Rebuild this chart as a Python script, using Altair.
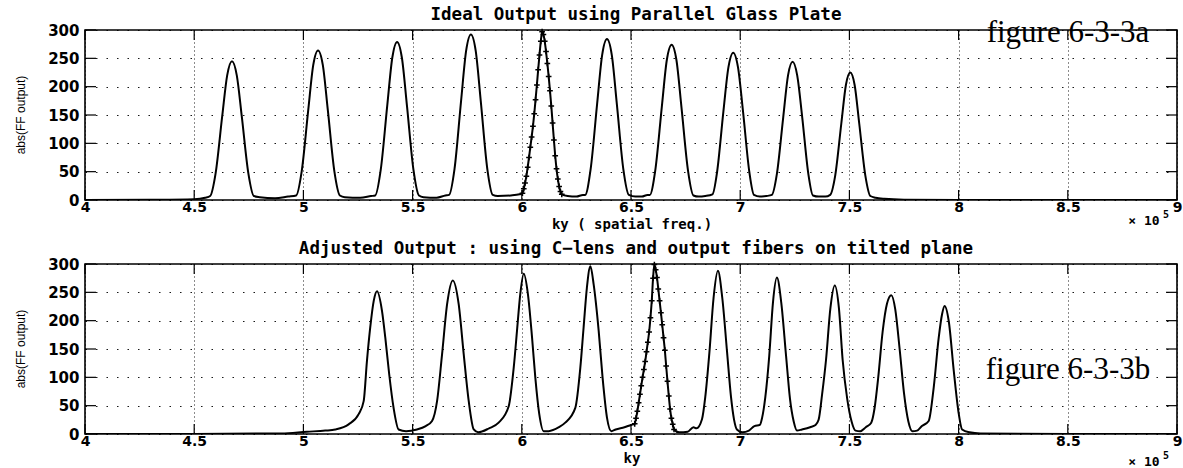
import altair as alt
import pandas as pd

# Axis tick positions
KY_TICKS = [4, 4.5, 5, 5.5, 6, 6.5, 7, 7.5, 8, 8.5, 9]
AMP_TICKS = [0, 50, 100, 150, 200, 250, 300]

# Texts
TITLES = [
    "Ideal Output using Parallel Glass Plate",
    "Adjusted Output : using C\u2212lens and output fibers on tilted plane",
]
X_TITLES = ["ky ( spatial freq.)", "ky"]
Y_TITLE = "abs(FF output)"
FIG_LABELS = ["figure 6-3-3a", "figure 6-3-3b"]
EXP_BASE = "\u00d7 10"
EXP_POWER = "5"

# Upper panel: far-field output with the parallel glass plate
top_ky = [
    4.00, 4.30, 4.50, 4.55,
    4.573, 4.598, 4.628, 4.651, 4.673, 4.695, 4.718, 4.748, 4.773,
    4.80, 4.87, 4.93,
    4.967, 4.992, 5.022, 5.045, 5.067, 5.089, 5.112, 5.142, 5.167,
    5.19, 5.26, 5.31,
    5.329, 5.354, 5.384, 5.407, 5.429, 5.451, 5.474, 5.504, 5.529,
    5.55, 5.61, 5.65,
    5.667, 5.692, 5.722, 5.745, 5.767, 5.789, 5.812, 5.842, 5.867,
    5.89, 5.95, 5.99,
    6.21, 6.25, 6.28,
    6.290, 6.315, 6.345, 6.368, 6.390, 6.412, 6.435, 6.465, 6.490,
    6.52, 6.55, 6.575,
    6.586, 6.611, 6.641, 6.664, 6.686, 6.708, 6.731, 6.761, 6.786,
    6.81, 6.84,
    6.873, 6.894, 6.923, 6.946, 6.968, 6.990, 7.013, 7.042, 7.063,
    7.09, 7.12,
    7.145, 7.168, 7.197, 7.219, 7.240, 7.261, 7.284, 7.312, 7.333,
    7.36, 7.39,
    7.412, 7.435, 7.463, 7.484, 7.504, 7.524, 7.545, 7.573, 7.596,
    7.62, 7.66, 7.75, 8.00, 9.00,
]
top_amp = [
    0, 0.5, 1.5, 4,
    7, 47, 147, 220, 245, 220, 147, 47, 7,
    5, 3, 6,
    8, 50, 158, 238, 264, 238, 158, 50, 8,
    5, 4, 7,
    8, 53, 167, 251, 279, 251, 167, 53, 8,
    5, 4, 8,
    9, 55, 175, 263, 292, 263, 175, 55, 9,
    7, 8, 10,
    7, 6, 9,
    9, 54, 170, 256, 284, 256, 170, 54, 9,
    6, 6, 9,
    9, 52, 164, 247, 274, 247, 164, 52, 8,
    6, 7,
    10, 49, 156, 234, 260, 234, 156, 49, 9,
    6, 7,
    9, 46, 146, 220, 244, 220, 146, 46, 8,
    6, 6,
    9, 43, 135, 203, 225, 203, 135, 43, 7,
    4, 2, 0.5, 0, 0,
]
# Sampled points of the reference channel (drawn with markers)
top_mark_ky = [
    6.003, 6.009, 6.015, 6.021, 6.027, 6.033, 6.039, 6.045, 6.051, 6.057,
    6.063, 6.069, 6.075, 6.081, 6.087, 6.093, 6.099, 6.105, 6.111, 6.117,
    6.123, 6.129, 6.135, 6.141, 6.147, 6.153, 6.159, 6.165, 6.171, 6.177,
    6.183,
]
top_mark_amp = [
    12, 20, 30, 42, 58, 75, 93, 111, 130, 152,
    177, 203, 230, 256, 280, 297, 292, 280, 262, 241,
    218, 193, 166, 136, 106, 78, 55, 37, 24, 15,
    10,
]

# Lower panel: C-lens with output fibers on a tilted plane
bot_ky = [
    4.00, 4.50, 4.90, 5.016, 5.10, 5.146, 5.207,
    5.253, 5.276, 5.291, 5.306, 5.322, 5.337, 5.360, 5.375, 5.393, 5.413, 5.436,
    5.47, 5.52, 5.56,
    5.589, 5.612, 5.635, 5.658, 5.684, 5.711, 5.734, 5.757, 5.780,
    5.80, 5.85,
    5.894, 5.940, 5.963, 5.978, 5.993, 6.009, 6.028, 6.047, 6.062, 6.080, 6.10,
    6.123, 6.17,
    6.199, 6.245, 6.268, 6.283, 6.298, 6.314, 6.329, 6.352, 6.370, 6.390, 6.410,
    6.43, 6.47, 6.50,
    6.72, 6.76, 6.786, 6.80,
    6.825, 6.840, 6.859, 6.878, 6.898, 6.918, 6.940, 6.958, 6.972, 6.985,
    7.01, 7.04, 7.065, 7.09,
    7.10, 7.115, 7.133, 7.150, 7.168, 7.188, 7.210, 7.228, 7.245, 7.26,
    7.283, 7.32, 7.345,
    7.359, 7.375, 7.393, 7.413, 7.433, 7.452, 7.469, 7.49, 7.51, 7.528,
    7.55, 7.575,
    7.60, 7.615, 7.632, 7.652, 7.672, 7.692, 7.710, 7.730, 7.750, 7.770, 7.788,
    7.81, 7.832,
    7.863, 7.886, 7.909, 7.924, 7.936, 7.955, 7.978, 8.001, 8.016,
    8.05, 8.10, 8.50, 9.00,
]
bot_amp = [
    0, 0, 1, 4, 6, 8, 17,
    35, 58, 129, 188, 235, 252, 217, 170, 105, 46, 8,
    5, 8, 14,
    23, 58, 141, 229, 271, 229, 141, 58, 8,
    3, 10,
    20, 49, 117, 182, 247, 283, 247, 170, 99, 35, 5,
    5, 12,
    20, 46, 117, 188, 258, 296, 264, 182, 99, 29, 5,
    8, 12, 16,
    3, 4, 12, 10,
    26, 65, 144, 240, 288, 240, 144, 65, 25, 8,
    3, 6, 14, 16,
    28, 65, 138, 232, 276, 232, 138, 62, 22, 6,
    8, 12, 16,
    25, 70, 131, 222, 262, 222, 131, 62, 22, 6,
    5, 12,
    20, 45, 100, 180, 230, 245, 220, 150, 72, 22, 5,
    6, 14,
    23, 82, 170, 211, 226, 199, 111, 35, 8,
    3, 1, 0, 0,
]
bot_mark_ky = [
    6.517, 6.523, 6.529, 6.535, 6.541, 6.547, 6.553, 6.559, 6.565, 6.571,
    6.577, 6.583, 6.589, 6.595, 6.601, 6.607, 6.613, 6.619, 6.625, 6.631,
    6.637, 6.643, 6.649, 6.655, 6.661, 6.667, 6.673, 6.679, 6.685, 6.691,
    6.697,
]
bot_mark_amp = [
    18, 28, 40, 55, 70, 85, 100, 114, 128, 145,
    162, 180, 205, 235, 275, 299, 290, 276, 256, 235,
    214, 193, 170, 148, 120, 93, 67, 44, 28, 17,
    8,
]

W, H = 1092, 170
SANS = "DejaVu Sans"
MONO = "DejaVu Sans Mono"
SERIF = "Liberation Serif"

KY_SCALE = alt.Scale(domain=[4, 9], nice=False, zero=False)
AMP_SCALE = alt.Scale(domain=[0, 300], nice=False)
KY_AXIS = alt.Axis(
    values=KY_TICKS, format="~g", title=None, grid=True, gridDash=[1, 3],
    gridColor="black", gridWidth=1, gridOpacity=0.9, ticks=False, domain=False,
    labelFont=SANS, labelFontWeight="bold", labelFontSize=14, labelColor="black",
    labelPadding=0, labelFlush=False, labelOverlap=False,
)
AMP_AXIS = alt.Axis(
    values=AMP_TICKS, format="d", title=None, grid=True, gridDash=[1.5, 9],
    gridColor="black", gridWidth=1, gridOpacity=0.9, ticks=False, domain=False,
    labelFont=SANS, labelFontWeight="bold", labelFontSize=15, labelColor="black",
    labelPadding=6, labelOverlap=False,
)


def kx(field="ky"):
    return alt.X(f"{field}:Q", scale=KY_SCALE, axis=KY_AXIS)


def ay(field="amp"):
    return alt.Y(f"{field}:Q", scale=AMP_SCALE, axis=AMP_AXIS)


def label(text, px, py, size, font=MONO, weight="bold", angle=0, baseline="middle"):
    return alt.Chart(pd.DataFrame({"t": [text]})).mark_text(
        font=font, fontSize=size, fontWeight=weight, color="black",
        align="center", baseline=baseline, angle=angle,
    ).encode(text="t:N", x=alt.value(px), y=alt.value(py))


def panel(ky, amp, mky, mamp, title, xtitle, xtitle_y, fig_label, fig_y, exp_y, corner):
    curve = pd.DataFrame({"ky": ky + mky, "amp": amp + mamp}).sort_values("ky")
    samples = pd.DataFrame({"ky": mky, "amp": mamp})

    line = alt.Chart(curve).mark_line(
        color="black", strokeWidth=2, interpolate="monotone", clip=True
    ).encode(x=kx(), y=ay())
    plus = alt.Chart(samples).mark_point(
        shape="M-1,0L1,0M0,-1L0,1", size=32, strokeWidth=1.5,
        color="black", filled=False, opacity=1,
    ).encode(x=kx(), y=ay())

    # inward tick marks on all four sides of the frame
    xt = pd.DataFrame({"ky": KY_TICKS})
    yt = pd.DataFrame({"amp": AMP_TICKS})
    tick_style = dict(color="black", strokeWidth=1.2)
    xt_bottom = alt.Chart(xt).mark_rule(**tick_style).encode(
        x=kx(), y=alt.value(H), y2=alt.value(H - 10))
    xt_top = alt.Chart(xt).mark_rule(**tick_style).encode(
        x=kx(), y=alt.value(0), y2=alt.value(10))
    yt_left = alt.Chart(yt).mark_rule(**tick_style).encode(
        y=ay(), x=alt.value(0), x2=alt.value(11))
    yt_right = alt.Chart(yt).mark_rule(**tick_style).encode(
        y=ay(), x=alt.value(W - 11), x2=alt.value(W))

    layers = [
        line, plus, xt_bottom, xt_top, yt_left, yt_right,
        label(title, 551, -15, 17.5),
        label(xtitle, 547, xtitle_y, 14),
        label(Y_TITLE, -64, H / 2, 12, font="Liberation Sans", weight="normal", angle=270),
        label(fig_label, 983, fig_y, 31, font=SERIF, weight="normal", baseline="alphabetic"),
        label(EXP_BASE, 1059, exp_y, 13),
        label(EXP_POWER, 1081, exp_y - 6, 10),
    ]
    if corner:
        # keeps the page origin fixed relative to the upper plot frame
        layers.append(
            alt.Chart(pd.DataFrame({"a": [0]})).mark_rule(color="white", strokeWidth=1).encode(
                x=alt.value(-83), x2=alt.value(-82), y=alt.value(-28.5))
        )
    return alt.layer(*layers).properties(width=W, height=H)


top = panel(top_ky, top_amp, top_mark_ky, top_mark_amp, TITLES[0], X_TITLES[0], H + 25,
            FIG_LABELS[0], 12, 191, True)
bottom = panel(bot_ky, bot_amp, bot_mark_ky, bot_mark_amp, TITLES[1], X_TITLES[1], H + 25,
               FIG_LABELS[1], 115, 198, False)

chart = alt.vconcat(top, bottom, spacing=64, bounds="flush").properties(
    padding=0, background="white"
).configure_view(stroke="black", strokeWidth=1.6)

chart.save("out.html", embed_options={"renderer": "svg", "actions": False})
